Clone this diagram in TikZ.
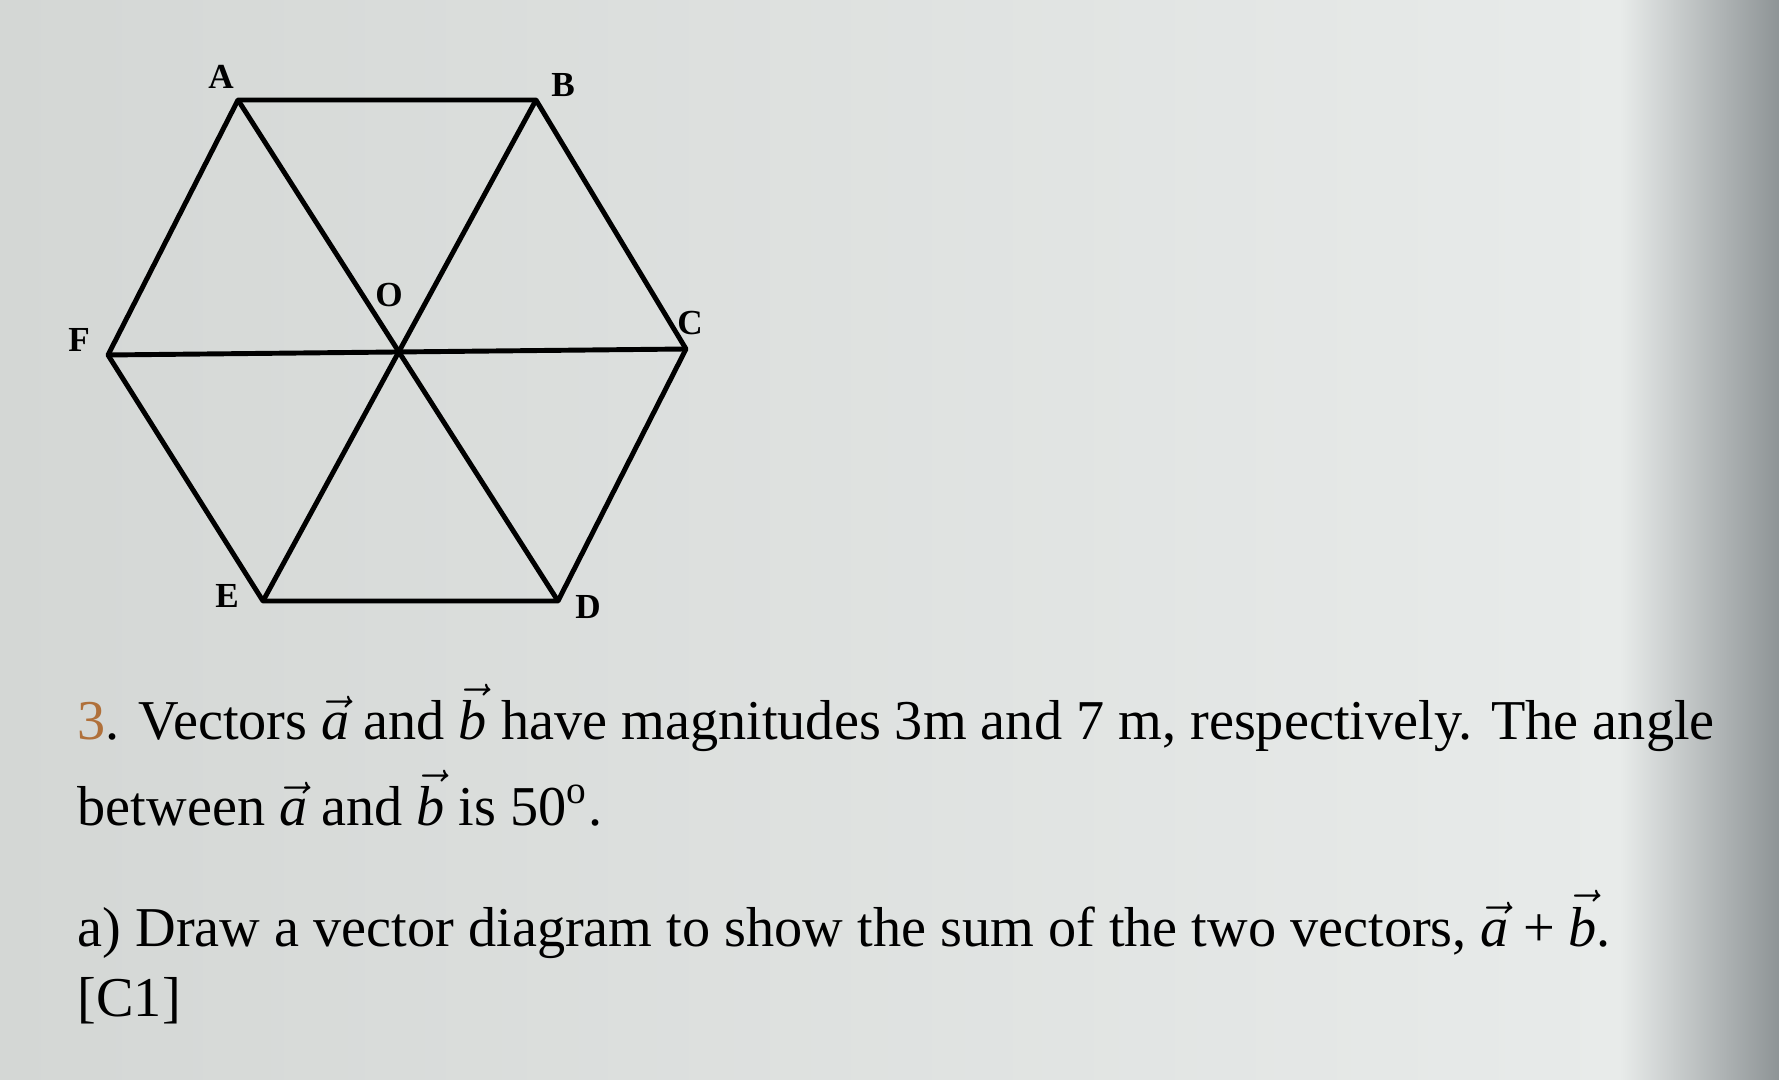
\documentclass[tikz,border=0pt]{standalone}
\usepackage{fontspec}
\setmainfont{Liberation Serif}
\usepackage{tikz}
\definecolor{bgleft}{HTML}{D4D7D5}
\definecolor{bgmid}{HTML}{E8EBEA}
\definecolor{bgedge}{HTML}{8E9496}
\definecolor{numcol}{HTML}{B0703A}
\newcommand{\va}{$\vec{\textit{a}}$}
\newcommand{\vb}{$\vec{\textit{b}}$}
\begin{document}
\begin{tikzpicture}[x=0.01cm,y=-0.01cm,
  hexline/.style={line width=1.4pt,line join=round},
  vlabel/.style={font=\fontsize{10}{11}\selectfont\bfseries,inner sep=0pt},
  qtext/.style={anchor=base west,inner sep=0pt,font=\fontsize{16}{19}\selectfont}]
\shade[left color=bgleft,right color=bgmid](0,0) rectangle (1620,1080);
\shade[left color=bgmid,right color=bgedge](1620,0) rectangle (1779,1080);
\useasboundingbox (0,0) rectangle (1779,1080);
% hexagon corners
\coordinate (A) at (238,100);
\coordinate (B) at (536,100);
\coordinate (C) at (686,349);
\coordinate (D) at (558,601);
\coordinate (E) at (263,601);
\coordinate (F) at (108,355);
\coordinate (O) at (394,352);
\draw[hexline](A)--(B)--(C)--(D)--(E)--(F)--cycle;
\draw[hexline](A)--(D);
\draw[hexline](B)--(E);
\draw[hexline](F)--(C);
\node[vlabel] (lA) at (221,77) {A};
\node[vlabel] (lB) at (563,85) {B};
\node[vlabel] (lC) at (690,323) {C};
\node[vlabel] (lD) at (588,607) {D};
\node[vlabel] (lE) at (227,596) {E};
\node[vlabel] (lF) at (79,340) {F};
\node[vlabel] (lO) at (389,295) {O};
% question text
\node[qtext] (q1) at (77,740) {\textcolor{numcol}{3}. Vectors \va{} and \vb{} have magnitudes 3m and 7 m, respectively. The angle};
\node[qtext] (q2) at (77,826) {between \va{} and \vb{} is 50\textsuperscript{o}.};
\node[qtext] (q3) at (77,946) {a) Draw a vector diagram to show the sum of the two vectors, \va{} + \vb{}.};
\node[qtext] (q4) at (77,1016) {[C1]};
\end{tikzpicture}
\end{document}
